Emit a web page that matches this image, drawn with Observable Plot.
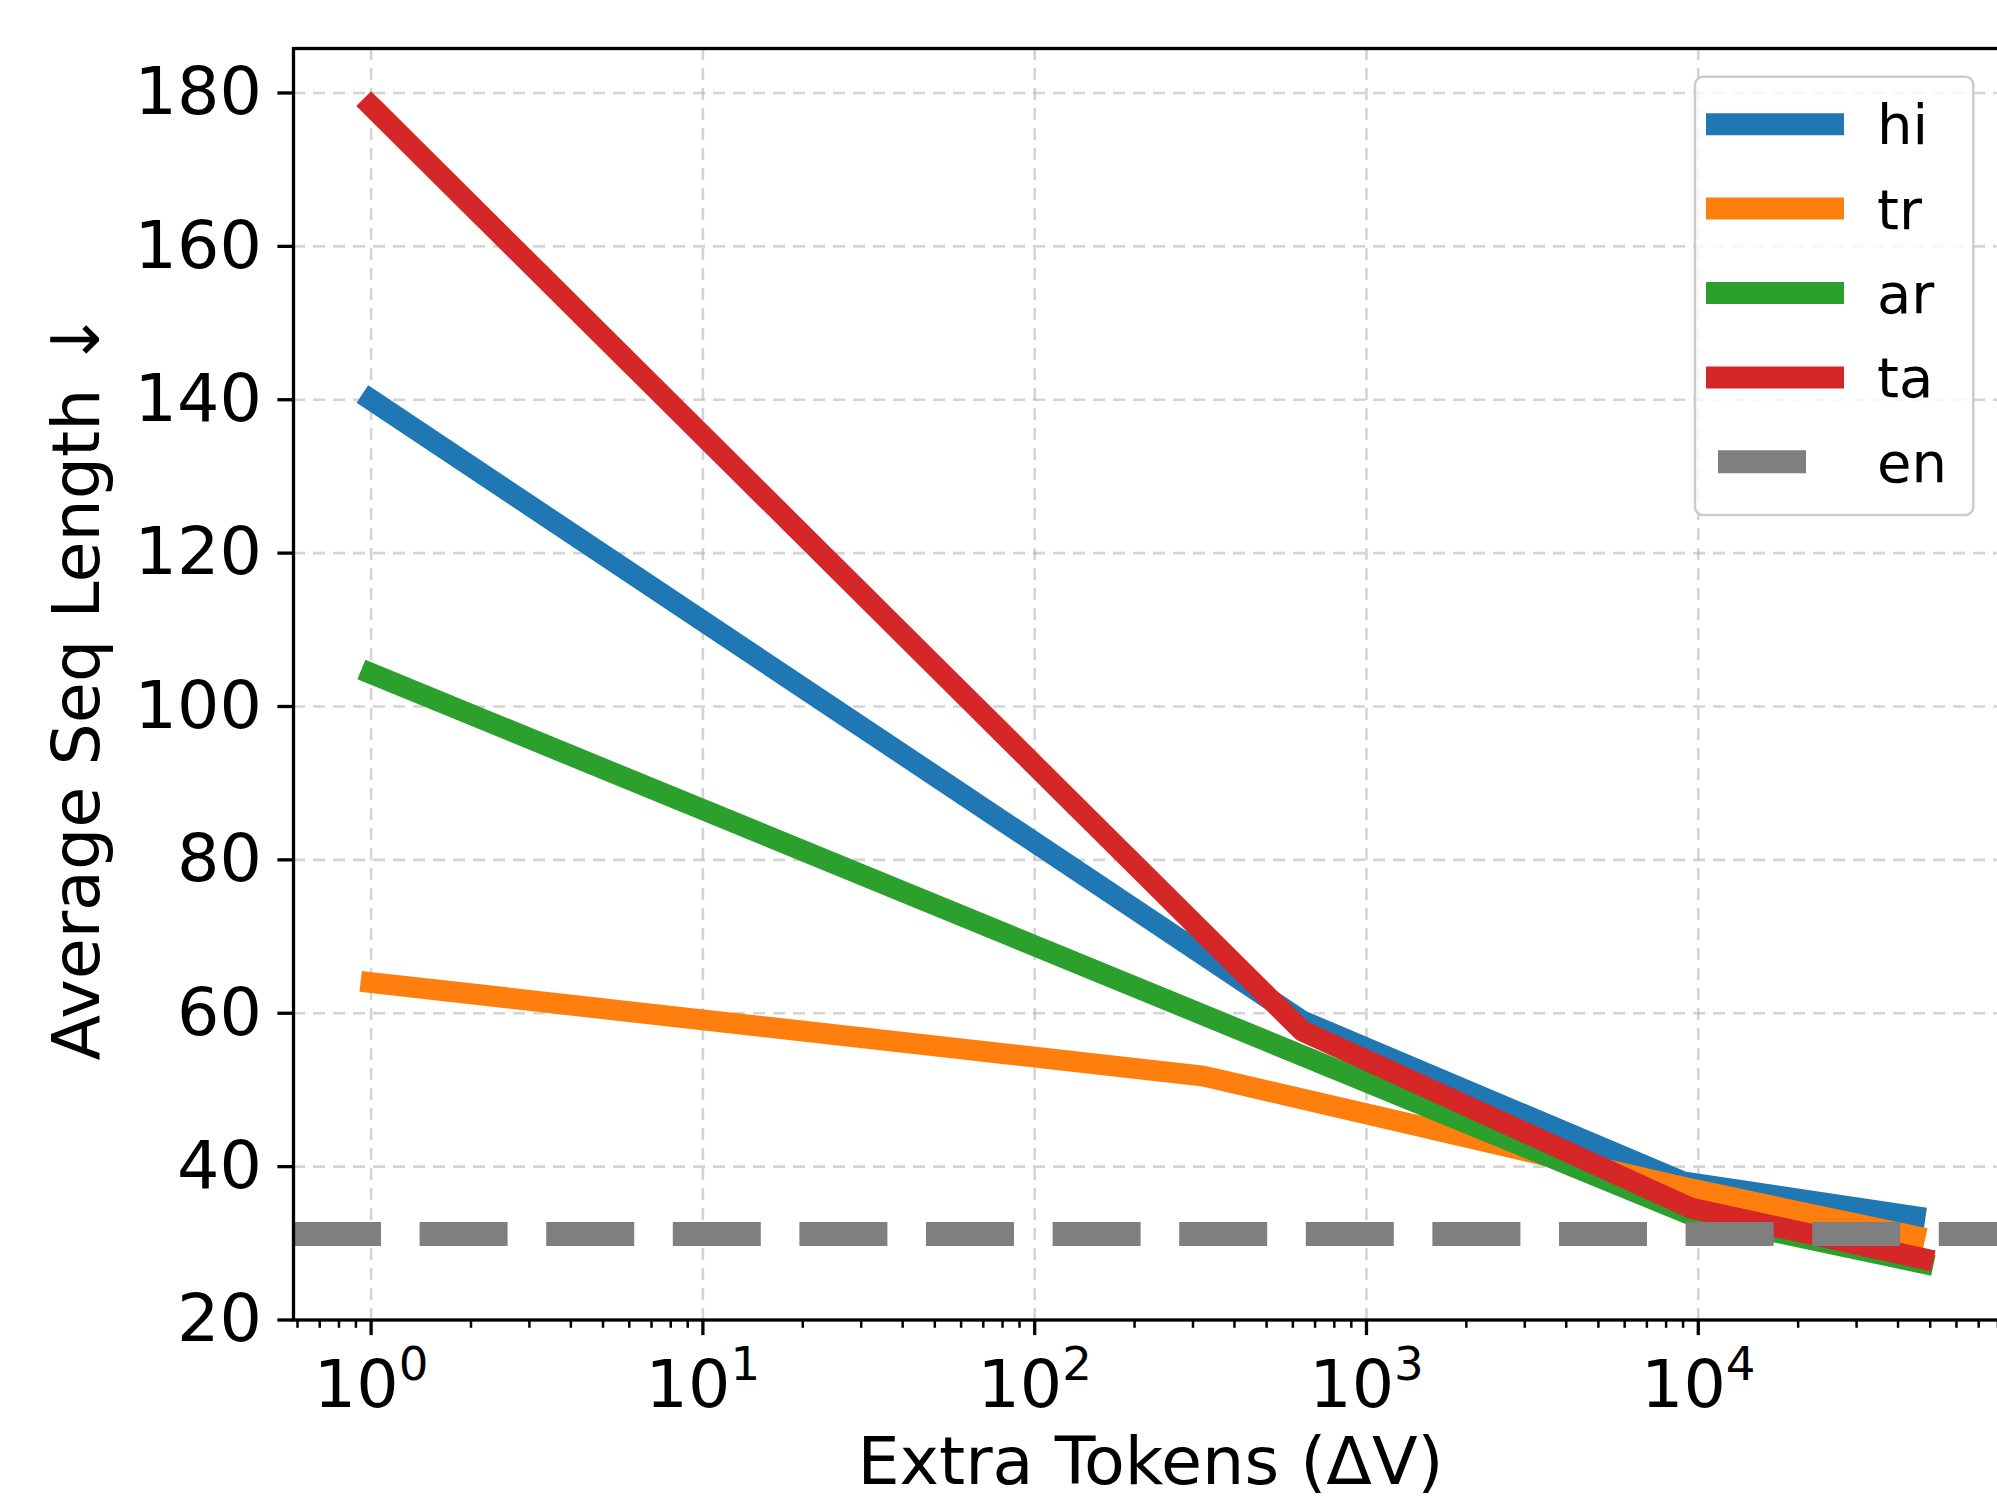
<!DOCTYPE html>
<html><head><meta charset="utf-8">
<script src="https://cdn.jsdelivr.net/npm/d3@7"></script>
<script src="https://cdn.jsdelivr.net/npm/@observablehq/plot@0.6"></script>
<style>
html,body{margin:0;padding:0;background:#fff;overflow:hidden;}
#wrap{position:relative;width:1997px;height:1502px;}
#wrap svg{position:absolute;left:0;top:0;}
</style></head><body><div id="wrap"></div>
<script>
// ---- data ----
const langs  = ["hi", "tr", "ar", "ta"];
const colors = ["#1f77b4", "#ff7f0e", "#2ca02c", "#d62728"];
const hiX = [1, 640, 9000, 45000];
const hiY = [140.0, 59.0, 38.0, 33.5];
const trX = [1, 323, 9000, 45000];
const trY = [64.0, 51.8, 37.3, 30.9];
const arX = [1, 9250, 47600];
const arY = [104.3, 33.9, 27.4];
const taX = [1, 640, 9480, 47600];
const taY = [178.3, 57.7, 34.6, 28.0];
const enLabel = "en";
const enY = 31.2;
const enColor = "#7f7f7f";
const yTicks = [20, 40, 60, 80, 100, 120, 140, 160, 180];
const xMajor = [1, 10, 100, 1000, 10000];
const xTitle = "Extra Tokens (\u0394V)";
const yTitle = "Average Seq Length \u2193";

const seriesX = {hi: hiX, tr: trX, ar: arX, ta: taX};
const seriesY = {hi: hiY, tr: trY, ar: arY, ta: taY};
const rows = [];
langs.forEach(l => seriesX[l].forEach((x, i) => rows.push({lang: l, x, y: seriesY[l][i]})));

const xMinor = [];
for (let e = -1; e <= 4; e++) for (let k = 2; k <= 9; k++) xMinor.push(k * Math.pow(10, e));

const W = 1997, H = 1502;
const FONT = "DejaVu Sans";
const xDomain = [Math.pow(10, -0.2339), Math.pow(10, 4.935)];
const minorIn = xMinor.filter(v => v >= xDomain[0] && v <= xDomain[1]);
const gridStyle = {stroke: "#b0b0b0", strokeOpacity: 0.55, strokeWidth: 2.6, strokeDasharray: "12,8"};

const chart = Plot.plot({
  width: W, height: H,
  marginLeft: 293, marginRight: -11, marginTop: 48, marginBottom: 182.5,
  style: {fontFamily: FONT, fontSize: "66.7px", background: "transparent", overflow: "hidden", color: "#000"},
  x: {type: "log", domain: xDomain},
  y: {domain: [20, 185.8]},
  color: {domain: langs, range: colors},
  marks: [
    Plot.gridX(xMajor, gridStyle),
    Plot.gridY(yTicks, gridStyle),
    Plot.line(rows, {x: "x", y: "y", z: "lang", stroke: "lang", strokeWidth: 21,
                     strokeLinecap: "square", strokeLinejoin: "round"}),
    Plot.ruleY([enY], {stroke: enColor, strokeWidth: 24, strokeDasharray: "88,38.6"}),
    Plot.frame({stroke: "#000", strokeWidth: 3.3}),
    Plot.axisY(yTicks, {tickSize: 15.6, tickPadding: 16, strokeWidth: 3.3, label: null,
                        tickFormat: d => String(d)}),
    Plot.axisX(minorIn, {tickSize: 8.3, strokeWidth: 2.5, label: null, tickFormat: () => ""}),
    Plot.axisX(xMajor, {tickSize: 15.6, tickPadding: 23.7, strokeWidth: 3.3, label: null,
                        tickFormat: d => String(Math.round(Math.log10(d)))})
  ]
});

// superscript tick labels 10^n
d3.select(chart).selectAll('g[aria-label="x-axis tick label"] text').each(function () {
  const t = d3.select(this);
  const e = t.text();
  if (!e) return;
  t.text("");
  t.append("tspan").text("10");
  t.append("tspan").attr("dy", "-26.7").attr("font-size", "46.7px").text(e);
});

// axis titles
const svg = d3.select(chart);
svg.append("text")
  .attr("x", 1150.5).attr("y", 1484)
  .attr("text-anchor", "middle")
  .attr("font-family", FONT).attr("font-size", "66.7px").attr("fill", "#000")
  .text(xTitle);
svg.append("text")
  .attr("transform", "translate(99,686) rotate(-90)")
  .attr("text-anchor", "middle")
  .attr("font-family", FONT).attr("font-size", "66.7px").attr("fill", "#000")
  .text(yTitle);

document.getElementById("wrap").appendChild(chart);

// legend overlay
const leg = d3.select("#wrap").append("svg")
  .attr("width", W).attr("height", H)
  .style("pointer-events", "none");
leg.append("rect")
  .attr("x", 1695).attr("y", 76.7).attr("width", 278.3).attr("height", 438.3)
  .attr("rx", 8).attr("ry", 8)
  .attr("fill", "#fff").attr("fill-opacity", 0.8)
  .attr("stroke", "#cccccc").attr("stroke-width", 2.5);
const entries = langs.map((l, i) => ({label: l, color: colors[i], dashed: false}))
  .concat([{label: enLabel, color: enColor, dashed: true}]);
entries.forEach((en, i) => {
  const cy = 124.2 + i * 84.4;
  leg.append("line")
    .attr("x1", en.dashed ? 1718 : 1706).attr("x2", en.dashed ? 1806 : 1844)
    .attr("y1", cy).attr("y2", cy)
    .attr("stroke", en.color).attr("stroke-width", en.dashed ? 23 : 22);
  leg.append("text")
    .attr("x", 1877).attr("y", cy + 20)
    .attr("font-family", FONT).attr("font-size", "56px").attr("fill", "#000")
    .text(en.label);
});
</script></body></html>
